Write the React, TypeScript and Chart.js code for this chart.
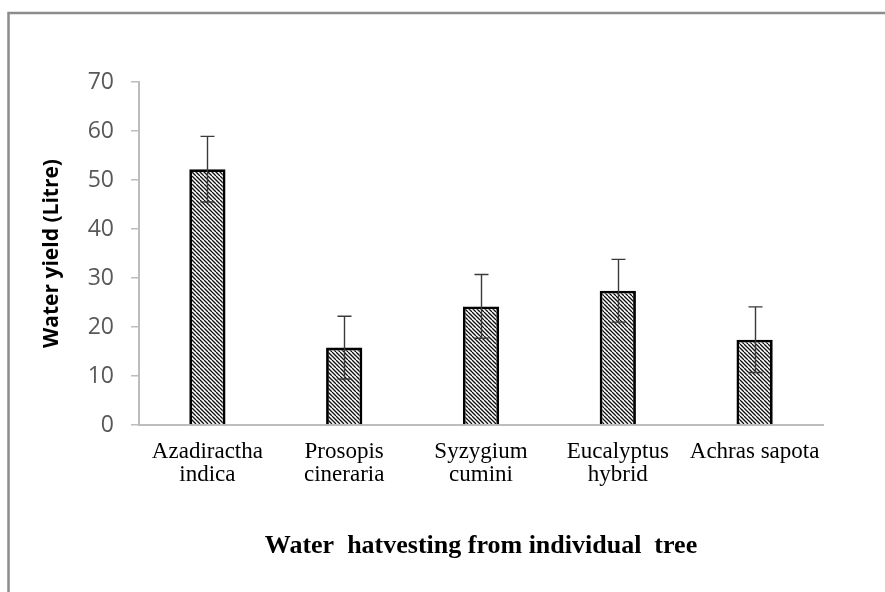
import { useEffect, useRef } from 'react';
import { Chart, registerables } from 'chart.js';

Chart.register(...registerables);

const categories: string[][] = [
  ['Azadiractha', 'indica'],
  ['Prosopis', 'cineraria'],
  ['Syzygium', 'cumini'],
  ['Eucalyptus', 'hybrid'],
  ['Achras sapota'],
];
const waterYield = [52.2, 15.8, 24.2, 27.4, 17.4];
const yieldError = [6.7, 6.4, 6.5, 6.4, 6.7];
const yMin = 0;
const yMax = 70;
const yStep = 10;
const yTitle = 'Water yield (Litre)';
const xTitle = 'Water  hatvesting from individual  tree';

function makeHatch(): CanvasPattern | string {
  const c = document.createElement('canvas');
  c.width = 8;
  c.height = 8;
  const g = c.getContext('2d');
  if (!g) return '#888';
  g.fillStyle = '#ffffff';
  g.fillRect(0, 0, 8, 8);
  g.strokeStyle = '#111111';
  g.lineWidth = 1.3;
  for (let k = -8; k <= 8; k += 4) {
    g.beginPath();
    g.moveTo(k, 0);
    g.lineTo(k + 8, 8);
    g.stroke();
  }
  const p = g.createPattern(c, 'repeat');
  return p || '#888';
}

const framePlugin = {
  id: 'frame',
  beforeDraw(chart: any) {
    const ctx = chart.ctx;
    ctx.save();
    ctx.fillStyle = '#ffffff';
    ctx.fillRect(0, 0, chart.width, chart.height);
    ctx.strokeStyle = '#8c8c8c';
    ctx.lineWidth = 2.5;
    ctx.beginPath();
    ctx.moveTo(8.5, chart.height);
    ctx.lineTo(8.5, 13);
    ctx.lineTo(chart.width, 13);
    ctx.stroke();
    ctx.restore();
  },
};

const errorBarPlugin = {
  id: 'errorBars',
  afterDatasetsDraw(chart: any) {
    const ctx = chart.ctx;
    const meta = chart.getDatasetMeta(0);
    const ys = chart.scales.y;
    ctx.save();
    ctx.strokeStyle = '#3a3a3a';
    ctx.lineWidth = 1.4;
    meta.data.forEach((bar: any, i: number) => {
      const x = Math.round(bar.x) + 0.5;
      const top = ys.getPixelForValue(waterYield[i] + yieldError[i]);
      const bot = ys.getPixelForValue(waterYield[i] - yieldError[i]);
      ctx.beginPath();
      ctx.moveTo(x, top);
      ctx.lineTo(x, bot);
      ctx.moveTo(x - 7, top);
      ctx.lineTo(x + 7, top);
      ctx.moveTo(x - 7, bot);
      ctx.lineTo(x + 7, bot);
      ctx.stroke();
    });
    ctx.restore();
  },
};

export default function App() {
  const ref = useRef<HTMLCanvasElement | null>(null);

  useEffect(() => {
    document.body.style.margin = '0';
    if (!ref.current) return;
    const hatch = makeHatch();
    const chart = new Chart(ref.current, {
      type: 'bar',
      data: {
        labels: categories,
        datasets: [
          {
            data: waterYield,
            backgroundColor: hatch as any,
            borderColor: '#000000',
            borderWidth: 2.8,
            categoryPercentage: 1,
            barPercentage: 0.265,
          },
        ],
      },
      options: {
        responsive: false,
        animation: false,
        devicePixelRatio: 1,
        layout: { padding: { left: 0, right: 62, top: 82, bottom: 0 } },
        plugins: {
          legend: { display: false },
          tooltip: { enabled: false },
        },
        scales: {
          x: {
            afterFit: (s: any) => {
              s.height = 167;
            },
            grid: { display: false },
            border: { display: true, color: '#bdbdbd', width: 2 },
            ticks: {
              color: '#000000',
              padding: 7,
              maxRotation: 0,
              autoSkip: false,
              font: { family: '"Liberation Serif", "Times New Roman", serif', size: 23, lineHeight: 1.02 },
            },
            title: {
              display: true,
              text: xTitle,
              color: '#000000',
              padding: { top: 0, bottom: 30 },
              font: { family: '"Liberation Serif", "Times New Roman", serif', size: 26, weight: 'bold' },
            },
          },
          y: {
            min: yMin,
            max: yMax,
            afterFit: (s: any) => {
              s.width = 139;
            },
            grid: {
              display: true,
              drawOnChartArea: false,
              drawTicks: true,
              tickLength: 8,
              color: '#bdbdbd',
              lineWidth: 1.5,
            },
            border: { display: true, color: '#bdbdbd', width: 2 },
            ticks: {
              stepSize: yStep,
              color: '#595959',
              padding: 17,
              font: { family: '"Open Sans", "Liberation Sans", sans-serif', size: 23 },
            },
            title: {
              display: true,
              text: yTitle,
              color: '#000000',
              padding: { top: 39, bottom: 0 },
              font: { family: '"Open Sans", "Liberation Sans", sans-serif', size: 21, weight: 'bold' },
            },
          },
        },
      },
      plugins: [framePlugin, errorBarPlugin],
    });
    return () => chart.destroy();
  }, []);

  return (
    <div style={{ width: 885, height: 592 }}>
      <canvas ref={ref} width={885} height={592} style={{ display: 'block' }} />
    </div>
  );
}
